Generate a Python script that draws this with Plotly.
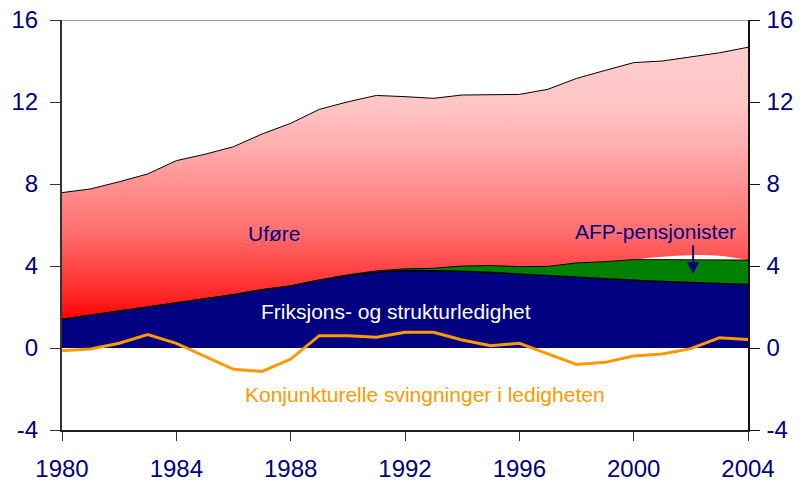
import plotly.graph_objects as go
import numpy as np

years = list(range(1980, 2005))
friksjon = [1.40, 1.60, 1.78, 1.98, 2.20, 2.40, 2.60, 2.84, 3.02, 3.30, 3.52, 3.70, 3.78,
            3.77, 3.75, 3.68, 3.60, 3.52, 3.45, 3.38, 3.30, 3.24, 3.19, 3.16, 3.10]
afp = [0, 0, 0, 0, 0, 0, 0, 0, 0, 0.02, 0.05, 0.06, 0.08,
       0.12, 0.25, 0.34, 0.37, 0.46, 0.70, 0.83, 1.01, 1.07, 1.12, 1.15, 1.19]
ufore = [6.18, 6.16, 6.33, 6.51, 6.94, 7.05, 7.22, 7.60, 7.94, 8.32, 8.44, 8.56, 8.40,
         8.29, 8.34, 8.35, 8.40, 8.64, 9.00, 9.33, 9.61, 9.69, 9.89, 10.09, 10.38]
konjunktur = [-0.13, -0.05, 0.23, 0.65, 0.23, -0.42, -1.04, -1.14, -0.54, 0.60, 0.60, 0.52, 0.77,
              0.77, 0.39, 0.11, 0.23, -0.29, -0.80, -0.70, -0.39, -0.29, -0.03, 0.50, 0.42]
# small white gap above the AFP area (2000-2004) seen in the original
gap_years = [2000, 2001, 2002, 2003, 2004]
gap_top = [4.31, 4.45, 4.53, 4.50, 4.29]
x_ticks = [1980, 1984, 1988, 1992, 1996, 2000, 2004]
y_ticks = [-4, 0, 4, 8, 12, 16]
y_ticklabels = ["-4", "0", "4", "8", "12", "16"]

NAVY = "#000080"
GREEN = "#008000"
ORANGE = "#FF9900"
FONT = "Liberation Sans, Arial, sans-serif"

s1 = np.array(friksjon)
s2 = s1 + np.array(afp)
s3 = s2 + np.array(ufore)
gap_base = [float(s2[years.index(y)]) for y in gap_years]

fig = go.Figure()
fig.add_trace(go.Scatter(x=years, y=s1, mode="lines", line=dict(width=0),
                         fill="tozeroy", fillcolor=NAVY, hoverinfo="skip"))
fig.add_trace(go.Scatter(x=years, y=s2, mode="lines", line=dict(width=0),
                         fill="tonexty", fillcolor=GREEN, hoverinfo="skip"))
fig.add_trace(go.Scatter(
    x=years, y=s3, mode="lines", line=dict(width=0), fill="tonexty",
    fillgradient=dict(type="vertical", start=1.4, stop=14.7,
                      colorscale=[[0, "#ff0000"], [0.068, "#ff2020"], [0.256, "#ff5a5a"],
                                  [0.316, "#ff6e6e"], [0.436, "#ff8585"], [0.647, "#ffb0b0"],
                                  [0.797, "#ffc6c6"], [1, "#ffcccc"]]),
    hoverinfo="skip"))
fig.add_trace(go.Scatter(x=gap_years, y=gap_base, mode="lines", line=dict(width=0),
                         hoverinfo="skip"))
fig.add_trace(go.Scatter(x=gap_years, y=gap_top, mode="lines",
                         line=dict(width=0, shape="spline"),
                         fill="tonexty", fillcolor="white", hoverinfo="skip"))
# boundary lines
fig.add_trace(go.Scatter(x=years, y=s1, mode="lines", line=dict(color="black", width=1.5),
                         hoverinfo="skip"))
fig.add_trace(go.Scatter(x=years, y=s2, mode="lines", line=dict(color="black", width=1),
                         hoverinfo="skip"))
fig.add_trace(go.Scatter(x=years, y=s3, mode="lines", line=dict(color="black", width=1),
                         hoverinfo="skip"))
fig.add_trace(go.Scatter(x=years, y=konjunktur, mode="lines",
                         line=dict(color=ORANGE, width=3), hoverinfo="skip"))
# invisible trace for the right axis
fig.add_trace(go.Scatter(x=[1980], y=[0], yaxis="y2", mode="markers",
                         marker=dict(opacity=0), hoverinfo="skip"))

ann_font = dict(family=FONT, size=21)
fig.add_annotation(x=1987.42, y=5.61, text="Uføre", showarrow=False,
                   font=dict(ann_font, color=NAVY))
fig.add_annotation(x=2000.78, y=5.66, text="AFP-pensjonister", showarrow=False,
                   font=dict(ann_font, color=NAVY))
fig.add_annotation(x=1991.67, y=1.76, text="Friksjons- og strukturledighet", showarrow=False,
                   font=dict(ann_font, color="white"))
fig.add_annotation(x=1992.7, y=-2.29, text="Konjunkturelle svingninger i ledigheten",
                   showarrow=False, font=dict(ann_font, color=ORANGE))
fig.add_annotation(x=2002.08, y=3.61, ax=2002.08, ay=5.07, axref="x", ayref="y",
                   text="", showarrow=True, arrowhead=2, arrowsize=1.2, arrowwidth=2,
                   arrowcolor=NAVY)

fig.add_shape(type="line", xref="paper", yref="y", x0=0, x1=1, y0=16, y1=16,
              line=dict(color="#808080", width=1.5), layer="above")

tick_font = dict(family=FONT, size=24, color=NAVY)
fig.update_layout(
    width=802, height=488,
    margin=dict(l=62, r=54, t=20, b=58, autoexpand=False),
    paper_bgcolor="white", plot_bgcolor="white",
    showlegend=False,
    xaxis=dict(range=[1980, 2004], tickvals=x_ticks, ticks="outside", ticklen=9,
               tickcolor="#333333", tickwidth=1, showline=True, linecolor="#222222",
               linewidth=2, showgrid=False, zeroline=False, tickfont=tick_font,
               automargin=False, ticklabelstandoff=7, ticklabeloverflow="allow"),
    yaxis=dict(range=[-4, 16], tickvals=y_ticks, ticktext=y_ticklabels, ticks="outside",
               ticklen=10, tickcolor="#333333", tickwidth=1, showline=True,
               linecolor="#333333", linewidth=2, showgrid=False, zeroline=False,
               tickfont=tick_font, automargin=False, ticklabelstandoff=7,
               ticklabeloverflow="allow"),
    yaxis2=dict(range=[-4, 16], tickvals=y_ticks, ticktext=y_ticklabels, ticks="outside",
                ticklen=10, tickcolor="#111111", tickwidth=1, showline=True,
                linecolor="#111111", linewidth=1.5, showgrid=False, zeroline=False,
                tickfont=tick_font, overlaying="y", side="right", automargin=False,
                ticklabelstandoff=2, ticklabeloverflow="allow"),
)

fig.write_html("out.html", config={"displayModeBar": False},
               post_script="document.body.style.margin='0';")
